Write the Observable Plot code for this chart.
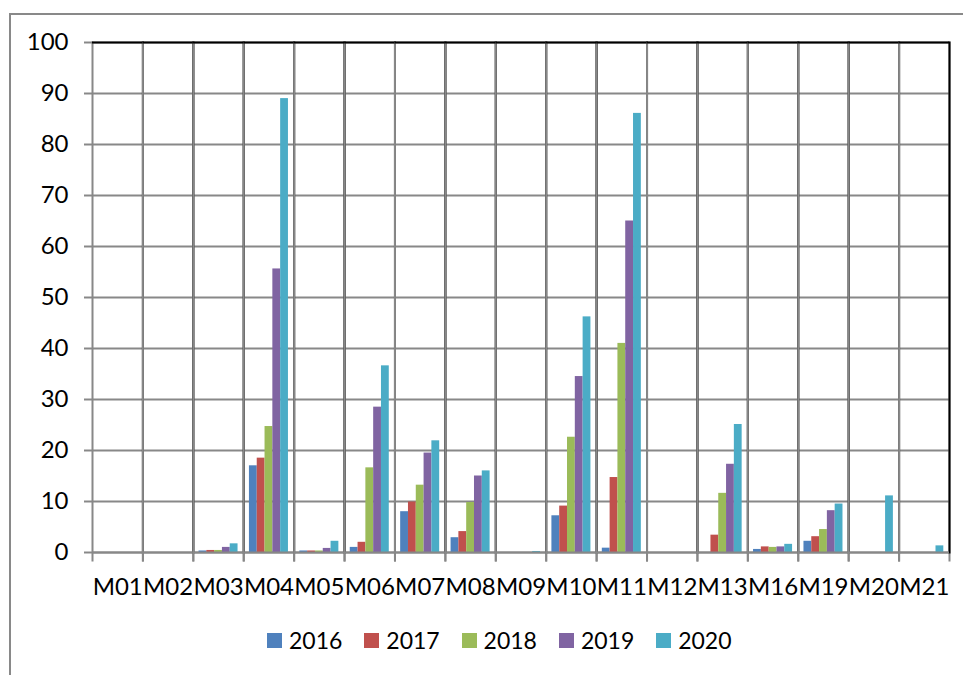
<!DOCTYPE html>
<html>
<head>
<meta charset="utf-8">
<script src="https://cdn.jsdelivr.net/npm/d3@7"></script>
<script src="https://cdn.jsdelivr.net/npm/@observablehq/plot@0.6"></script>
<style>
  html, body { margin: 0; padding: 0; background: #fff; }
  body { width: 963px; height: 675px; position: relative; overflow: hidden; font-family: Lato, "Open Sans", sans-serif; }
  #border { position: absolute; left: 9px; top: 13px; right: -4px; bottom: -4px; border-top: 2px solid #898989; border-left: 2px solid #898989; }
  #chart { position: absolute; left: 0; top: 0; }
  #legend { position: absolute; left: 267px; top: 626px; display: flex; }
  .item { width: 97.3px; display: flex; align-items: center; font-size: 23px; color: #000; }
  .sw { width: 15px; height: 15px; margin-right: 7px; }
</style>
</head>
<body>
<div id="border"></div>
<div id="chart"></div>
<div id="legend"></div>
<script>
const categories = ["M01","M02","M03","M04","M05","M06","M07","M08","M09","M10","M11","M12","M13","M16","M19","M20","M21"];
const years = ["2016","2017","2018","2019","2020"];
const colors = ["#4F81BD","#C0504D","#9BBB59","#8064A2","#4BACC6"];
const v2016 = [0,0,0.3,17.0,0.3,1.0,8.0,2.9,0,7.2,0.85,0,0,0.6,2.2,0,0];
const v2017 = [0,0,0.4,18.5,0.3,2.0,9.9,4.1,0,9.1,14.7,0,3.4,1.1,3.1,0,0];
const v2018 = [0,0,0.4,24.7,0.3,16.6,13.2,9.8,0,22.6,41.0,0,11.6,1.0,4.5,0,0];
const v2019 = [0,0,1.0,55.6,0.8,28.5,19.5,15.0,0,34.5,65.0,0,17.3,1.1,8.2,0,0];
const v2020 = [0,0,1.7,89.0,2.2,36.6,21.9,16.0,0.2,46.2,86.1,0,25.1,1.6,9.5,11.1,1.3];
const yTicks = [0,10,20,30,40,50,60,70,80,90,100];

const series = [v2016, v2017, v2018, v2019, v2020];
const data = [];
categories.forEach((c, i) => years.forEach((y, j) => data.push({cat: c, year: y, value: series[j][i]})));

const grid = "#888888";
const chart = Plot.plot({
  width: 963,
  height: 600,
  marginLeft: 92,
  marginRight: 14,
  marginTop: 42,
  marginBottom: 48,
  style: {fontFamily: "Lato, 'Open Sans', sans-serif", fontSize: "24px", color: "#000", background: "transparent"},
  fx: {domain: categories, paddingInner: 0, paddingOuter: 0, round: false, axis: null, label: null},
  x: {domain: years, paddingInner: 0, paddingOuter: 0.73, round: false, axis: null, label: null},
  y: {domain: [0, 100], axis: null, label: null},
  color: {domain: years, range: colors},
  marks: [
    Plot.ruleY(yTicks, {stroke: grid, strokeWidth: 2}),
    Plot.frame({anchor: "right", stroke: grid, strokeWidth: 2, insetBottom: -8}),
    Plot.frame({anchor: "right", stroke: "#000", strokeWidth: 2}),
    Plot.frame({anchor: "left", stroke: grid, strokeWidth: 2, insetBottom: -8}),
    Plot.barY(data, {fx: "cat", x: "year", y: "value", fill: "year"}),
    Plot.ruleY([0], {stroke: grid, strokeWidth: 2}),
    Plot.ruleY([100], {stroke: "#000", strokeWidth: 2}),
    Plot.axisY({ticks: yTicks, tickSize: 8, tickPadding: 16, stroke: grid, strokeWidth: 2, tickFormat: d => String(d), fontSize: 24, label: null}),
    Plot.axisFx({anchor: "bottom", tickSize: 0, tickPadding: 25, fontSize: 24, label: null})
  ]
});
document.getElementById("chart").appendChild(chart);

const legend = document.getElementById("legend");
years.forEach((y, j) => {
  const it = document.createElement("div");
  it.className = "item";
  const sw = document.createElement("span");
  sw.className = "sw";
  sw.style.background = colors[j];
  it.appendChild(sw);
  it.appendChild(document.createTextNode(y));
  legend.appendChild(it);
});
</script>
</body>
</html>
